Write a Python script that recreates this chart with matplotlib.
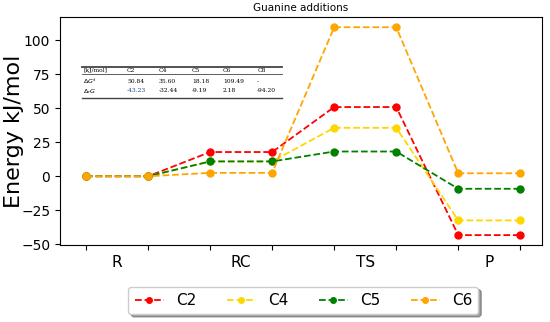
import matplotlib
matplotlib.use("Agg")
import matplotlib.pyplot as plt
import numpy as np

# energy profile data (two points per state)
states = ['R', 'RC', 'TS', 'P']
c2 = [0, 0, 17.8, 17.8, 50.84, 50.84, -43.23, -43.23]
c4 = [0, 0, 10.9, 10.9, 35.60, 35.60, -32.44, -32.44]
c5 = [0, 0, 10.9, 10.9, 18.18, 18.18, -9.19, -9.19]
c6 = [0, 0, 2.5, 2.5, 109.49, 109.49, 2.18, 2.18]

series = [('C2', c2, 'red'), ('C4', c4, 'gold'), ('C5', c5, 'green'), ('C6', c6, 'orange')]

# inset table
tab_cols = ['[kJ/mol]', 'C2', 'C4', 'C5', 'C6', 'C8']
tab_dg = ['50.84', '35.60', '18.18', '109.49', '-']
tab_drg = ['-43.23', '-32.44', '-9.19', '2.18', '-94.20']

fig = plt.figure(figsize=(5.5, 3.22), dpi=100)
ax = fig.add_axes([60 / 550, 1 - 245 / 322, 482 / 550, 228 / 322])

x = np.arange(len(c2))
for name, vals, col in series:
    ax.plot(x, vals, '--o', color=col, label=name, markersize=5, linewidth=1.3)

ax.set_xlim(-0.42, 7.35)
ax.set_ylim(-50.5, 117)
ax.set_yticks([-50, -25, 0, 25, 50, 75, 100])
ax.tick_params(axis='y', labelsize=10)
ax.set_xticks(x)
ax.set_xticklabels([])
ax.set_xticks(np.arange(0.5, 8, 2), minor=True)
ax.set_xticklabels(states, minor=True, fontsize=11)
ax.tick_params(axis='x', which='minor', length=0, pad=7)
ax.set_ylabel('Energy kJ/mol', fontsize=16)
ax.yaxis.set_label_coords(-0.075, 0.5)
ax.set_title('Guanine additions', fontsize=7.5, pad=4)

# table drawn as text
tx = [0.048, 0.139, 0.205, 0.274, 0.338, 0.409]
ax.plot([0.046, 0.46], [0.781, 0.781], transform=ax.transAxes, color='#444444', lw=1.3)
ax.plot([0.046, 0.46], [0.748, 0.748], transform=ax.transAxes, color='#444444', lw=0.6)
ax.plot([0.046, 0.46], [0.643, 0.643], transform=ax.transAxes, color='#444444', lw=1.0)
for i, t in enumerate(tab_cols):
    ax.text(tx[i], 0.764, t, transform=ax.transAxes, fontsize=4.3, family='serif', va='center')
ax.text(tx[0], 0.718, r'$\Delta G^{\ddagger}$', transform=ax.transAxes, fontsize=4.6, va='center')
ax.text(tx[0], 0.674, r'$\Delta_r G$', transform=ax.transAxes, fontsize=4.6, va='center')
for i in range(5):
    ax.text(tx[i + 1], 0.716, tab_dg[i], transform=ax.transAxes, fontsize=4.3, family='serif', va='center')
    ax.text(tx[i + 1], 0.676, tab_drg[i], transform=ax.transAxes, fontsize=4.3, family='serif', va='center',
            color='#1f3f8f' if i == 0 else 'k')

ax.legend(loc='upper center', bbox_to_anchor=(0.505, -0.15), ncol=4, fontsize=11, shadow=True,
          handlelength=1.9, columnspacing=2.0, markerscale=0.8, frameon=True, fancybox=True)

fig.savefig('out.png', dpi=100)
